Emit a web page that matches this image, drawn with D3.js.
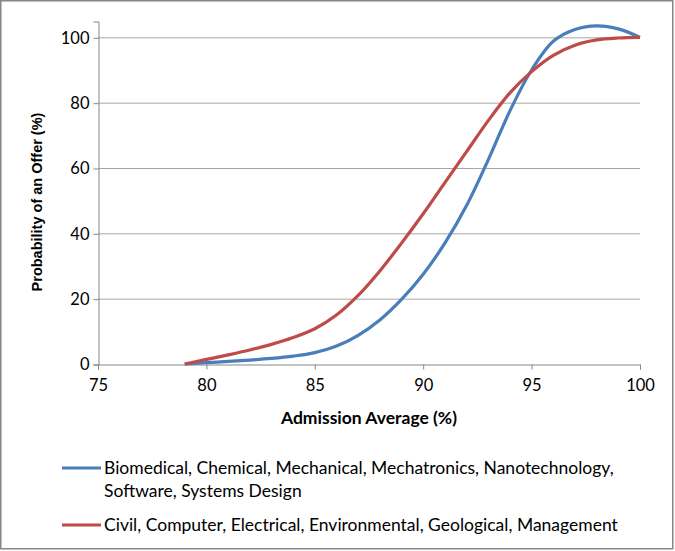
<!DOCTYPE html>
<html>
<head>
<meta charset="utf-8">
<script src="https://cdn.jsdelivr.net/npm/d3@7"></script>
<style>
  body { margin: 0; background: #fff; }
  text { font-family: Lato, "Open Sans", sans-serif; fill: #000; }
</style>
</head>
<body>
<div id="main"></div>
<script>
// values
var admission = [79, 80, 81, 82, 83, 84, 85, 86, 87, 88, 89, 90, 91, 92, 93, 94, 95, 96, 97, 98, 99, 100];
var groupA = [0, 0.4, 0.8, 1.2, 1.7, 2.4, 3.5, 5.5, 8.8, 13.5, 19.8, 27.5, 37, 48.5, 62.5, 77.5, 90, 98.8, 102.4, 103.5, 102.6, 100];
var groupB = [0, 1.4, 2.8, 4.3, 6, 8.1, 10.8, 15, 21, 28.5, 37, 46, 55.5, 65, 74.5, 83, 89.5, 94.5, 97.6, 99.2, 99.8, 100];
var xTicks = [75, 80, 85, 90, 95, 100];
var yTicks = [0, 20, 40, 60, 80, 100];
var legendA = ["Biomedical, Chemical, Mechanical, Mechatronics, Nanotechnology,", "Software, Systems Design"];
var legendB = ["Civil, Computer, Electrical, Environmental, Geological, Management"];

var width = 675, height = 551;
var svg = d3.select("#main").append("svg")
  .attr("width", width).attr("height", height);

svg.append("rect")
  .attr("x", 0.75).attr("y", 0.75)
  .attr("width", width - 3).attr("height", height - 3)
  .style("fill", "#fff")
  .style("stroke", "#868686")
  .style("stroke-width", 1.5);

var x = d3.scaleLinear().domain([75, 100]).range([98, 640]);
var y = d3.scaleLinear().domain([0, 105]).range([364, 21]);

var plot = svg.append("g");

// gridlines
plot.selectAll(".grid").data(yTicks.filter(function (d) { return d > 0; }))
  .enter().append("line")
  .attr("x1", x(75)).attr("x2", x(100))
  .attr("y1", function (d) { return y(d) + 0.5; })
  .attr("y2", function (d) { return y(d) + 0.5; })
  .style("stroke", "#a6a6a6").style("stroke-width", 1);

// y axis
var yAxis = plot.append("g")
  .attr("transform", "translate(" + (x(75) + 0.5) + ",0.5)")
  .call(d3.axisLeft(y).tickValues(yTicks).tickSize(5).tickPadding(4));
yAxis.selectAll("text").style("font-size", "16.5px");

// x axis
var xAxis = plot.append("g")
  .attr("transform", "translate(0," + (y(0) + 0.5) + ")")
  .call(d3.axisBottom(x).tickValues(xTicks).tickSize(5).tickPadding(10));
xAxis.selectAll("text").style("font-size", "16.5px");

[yAxis, xAxis].forEach(function (a) {
  a.select(".domain").style("stroke", "#868686");
  a.selectAll(".tick line").style("stroke", "#868686");
  a.selectAll("text").style("font-family", "Lato, 'Open Sans', sans-serif").attr("fill", "#000");
});

// axis titles
svg.append("text")
  .text("Admission Average (%)")
  .attr("x", 369).attr("y", 424)
  .attr("text-anchor", "middle")
  .style("font-size", "17.5px").style("font-weight", "bold");

svg.append("text")
  .text("Probability of an Offer (%)")
  .attr("transform", "translate(42,202) rotate(-90)")
  .attr("text-anchor", "middle")
  .style("font-family", "'Liberation Sans', Arial, sans-serif")
  .style("font-size", "14.5px").style("font-weight", "bold");

// series
var line = d3.line()
  .x(function (d) { return x(d[0]); })
  .y(function (d) { return y(d[1]); })
  .curve(d3.curveCatmullRom);

var series = [
  { values: groupA, color: "#4a7ebb", label: legendA, ly: 468 },
  { values: groupB, color: "#be4b48", label: legendB, ly: 525 }
];

series.forEach(function (s) {
  plot.append("path")
    .datum(admission.map(function (a, i) { return [a, s.values[i]]; }))
    .attr("d", line)
    .style("fill", "none")
    .style("stroke", s.color)
    .style("stroke-width", 3.2)
    .style("stroke-linejoin", "round");

  svg.append("line")
    .attr("x1", 62).attr("x2", 101)
    .attr("y1", s.ly).attr("y2", s.ly)
    .style("stroke", s.color).style("stroke-width", 3.2);

  var t = svg.append("text")
    .attr("x", 104).attr("y", s.ly + 6)
    .style("font-size", "17.5px");
  s.label.forEach(function (l, i) {
    t.append("tspan").attr("x", 104).attr("dy", i === 0 ? 0 : 23).text(l);
  });
});
</script>
</body>
</html>
